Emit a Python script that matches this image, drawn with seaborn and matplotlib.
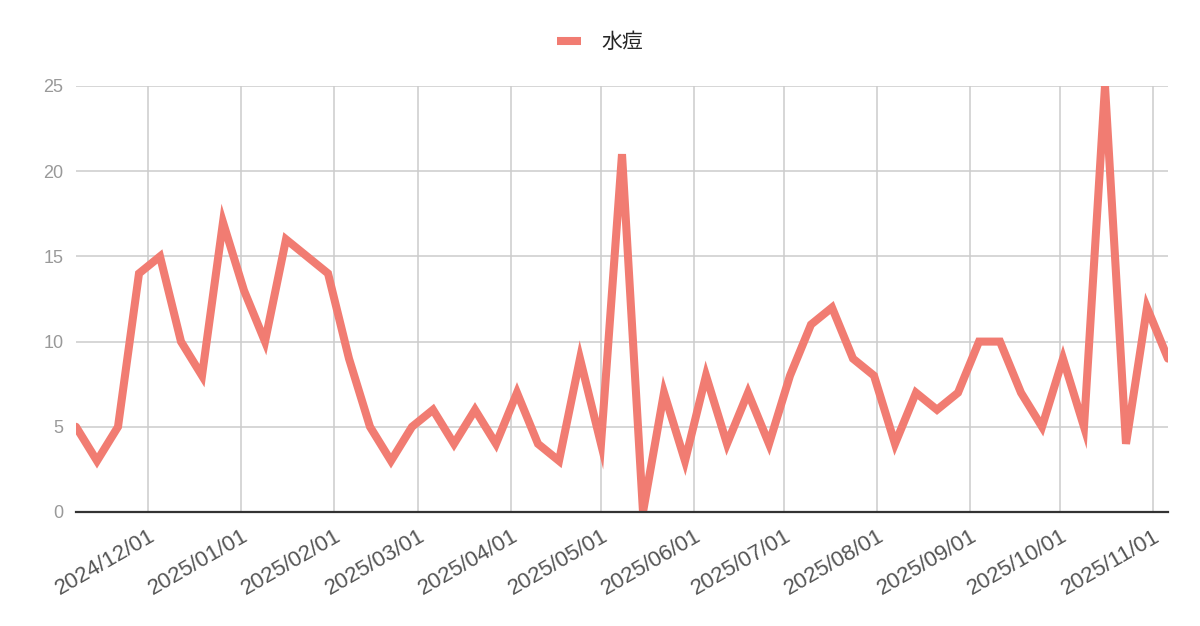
import matplotlib
matplotlib.use("Agg")
import matplotlib.pyplot as plt
import matplotlib.dates as mdates
import numpy as np
import pandas as pd
import seaborn as sns

# weekly counts
start_date = "2024-11-07"
n_weeks = 53
counts = [5, 3, 5, 14, 15, 10, 8, 17, 13, 10,
          16, 15, 14, 9, 5, 3, 5, 6, 4, 6,
          4, 7, 4, 3, 9, 4, 21, 0, 7, 3,
          8, 4, 7, 4, 8, 11, 12, 9, 8, 4,
          7, 6, 7, 10, 10, 7, 5, 9, 5, 25,
          4, 12, 9]
series_name = "水痘"
y_ticks = [0, 5, 10, 15, 20, 25]

dates = pd.date_range(start_date, periods=n_weeks, freq="7D")
df = pd.DataFrame({"date": dates, "count": counts, "disease": series_name})

sns.set_style("white")
plt.rcParams["font.family"] = ["Liberation Sans", "Noto Sans CJK JP", "DejaVu Sans"]

fig = plt.figure(figsize=(12, 6.26), dpi=100)
ax = fig.add_axes([76 / 1200, 1 - 512 / 626, (1168 - 76) / 1200, (512 - 86) / 626])

sns.lineplot(data=df, x="date", y="count", hue="disease", palette=["#f17c72"],
             linewidth=5.8, ax=ax, legend=True)
for ln in ax.lines:
    ln.set_solid_joinstyle("miter")

ax.set_xlim(dates[0], dates[-1])
ax.set_ylim(0, 25)
ax.set_yticks(y_ticks)
ax.xaxis.set_major_locator(mdates.MonthLocator())
ax.xaxis.set_major_formatter(mdates.DateFormatter("%Y/%m/%d"))

ax.grid(True, color="#cccccc", linewidth=1.1)
ax.set_axisbelow(True)
for side in ["top", "right", "left"]:
    ax.spines[side].set_visible(False)
ax.spines["bottom"].set_color("#333333")
ax.spines["bottom"].set_linewidth(1.6)
ax.spines["bottom"].set_zorder(3)

ax.tick_params(axis="both", length=0)
ax.tick_params(axis="y", pad=9, labelsize=13, labelcolor="#999999")
ax.tick_params(axis="x", pad=10, labelsize=16, labelcolor="#555555")
for lab in ax.get_xticklabels():
    lab.set_rotation(30)
    lab.set_ha("right")
    lab.set_rotation_mode("anchor")

ax.set_xlabel("")
ax.set_ylabel("")

handles, labels = ax.get_legend_handles_labels()
for h in handles:
    h.set_solid_capstyle("butt")
ax.legend(handles, labels, loc="center", bbox_to_anchor=(0.5, 0.932),
          bbox_transform=fig.transFigure, frameon=False, fontsize=15,
          handlelength=1.15, handletextpad=1.0)

fig.savefig("out.png", dpi=100)
